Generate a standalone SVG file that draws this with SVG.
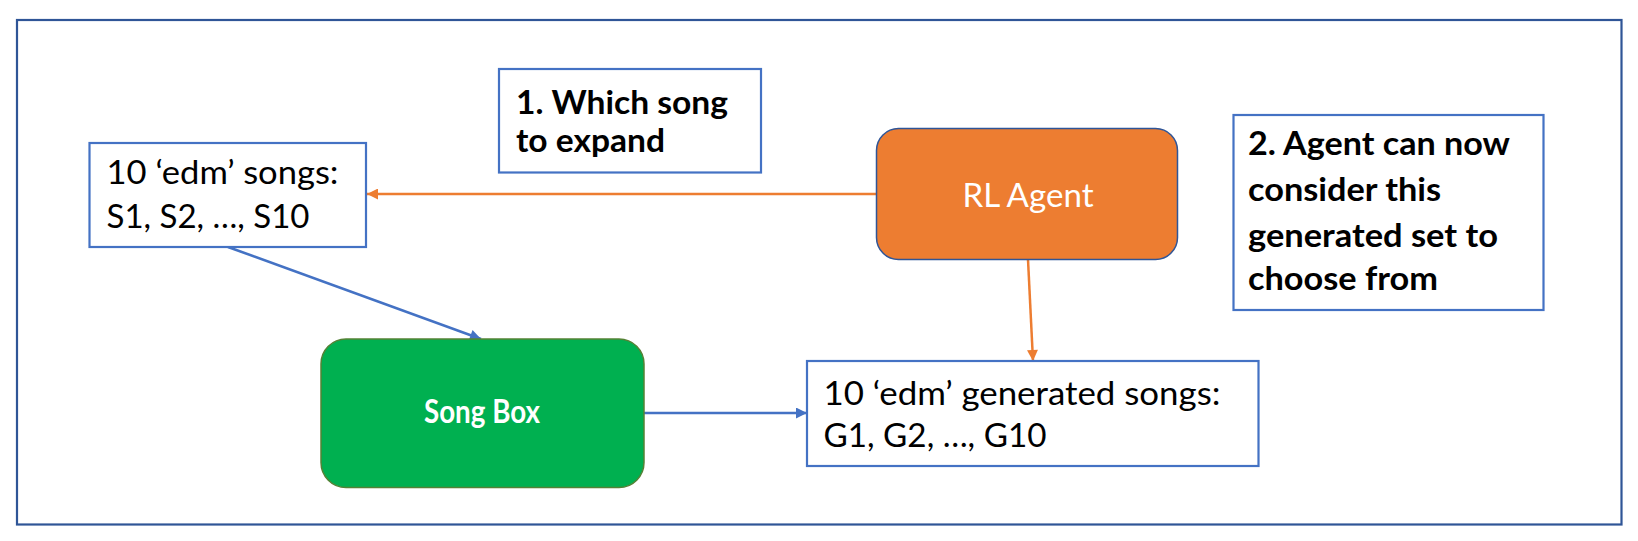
<svg xmlns="http://www.w3.org/2000/svg" width="1638" height="541" viewBox="0 0 1638 541">
  <defs>
    <style>
      .box { fill: #ffffff; stroke: #4472C4; stroke-width: 2.2; }
      .txt { font-family: Lato, "Open Sans", "Liberation Sans", sans-serif; font-size: 33px; fill: #000000; }
      .bold { font-weight: bold; }
      .white { fill: #ffffff; }
      .blue { stroke: #4472C4; stroke-width: 2.5; fill: none; }
      .orange { stroke: #ED7D31; stroke-width: 2.5; fill: none; }
    </style>
    <marker id="arrBlue" viewBox="0 0 10 10" refX="10" refY="5" markerWidth="12" markerHeight="11" markerUnits="userSpaceOnUse" orient="auto">
      <path d="M0,0 L10,5 L0,10 z" fill="#4472C4"/>
    </marker>
    <marker id="arrOrange" viewBox="0 0 10 10" refX="10" refY="5" markerWidth="12" markerHeight="11" markerUnits="userSpaceOnUse" orient="auto">
      <path d="M0,0 L10,5 L0,10 z" fill="#ED7D31"/>
    </marker>
  </defs>

  <rect id="frame" x="17" y="20" width="1604.5" height="504.5" fill="#ffffff" stroke="#2F5597" stroke-width="2.2"/>

  <g id="connectors">
    <line class="orange" x1="876" y1="194" x2="367" y2="194" marker-end="url(#arrOrange)"/>
    <line class="orange" x1="1028" y1="259.5" x2="1033" y2="361" marker-end="url(#arrOrange)"/>
    <line class="blue" x1="228" y1="247" x2="481" y2="339" marker-end="url(#arrBlue)"/>
    <line class="blue" x1="644" y1="413" x2="807" y2="413" marker-end="url(#arrBlue)"/>
  </g>

  <g id="songs-input">
    <rect class="box" x="89.5" y="143" width="276.5" height="104"/>
    <text class="txt" x="106.5" y="184" textLength="232" lengthAdjust="spacingAndGlyphs">10 ‘edm’ songs:</text>
    <text class="txt" x="106.5" y="228" textLength="203" lengthAdjust="spacingAndGlyphs">S1, S2, …, S10</text>
  </g>

  <g id="note-1">
    <rect class="box" x="499" y="69" width="262" height="103.5"/>
    <text class="txt bold" x="516" y="114" textLength="212" lengthAdjust="spacingAndGlyphs">1. Which song</text>
    <text class="txt bold" x="516" y="151.5" textLength="149" lengthAdjust="spacingAndGlyphs">to expand</text>
  </g>

  <g id="rl-agent">
    <rect x="876.5" y="128.5" width="301" height="131" rx="22" ry="22" fill="#ED7D31" stroke="#2F5597" stroke-width="1.5"/>
    <text class="txt white" x="1028" y="207" text-anchor="middle" textLength="131" lengthAdjust="spacingAndGlyphs">RL Agent</text>
  </g>

  <g id="note-2">
    <rect class="box" x="1233.5" y="115" width="310" height="195"/>
    <text class="txt bold" x="1248" y="155" textLength="262" lengthAdjust="spacingAndGlyphs">2. Agent can now</text>
    <text class="txt bold" x="1248" y="201" textLength="193" lengthAdjust="spacingAndGlyphs">consider this</text>
    <text class="txt bold" x="1248" y="246.5" textLength="250" lengthAdjust="spacingAndGlyphs">generated set to</text>
    <text class="txt bold" x="1248" y="290" textLength="190" lengthAdjust="spacingAndGlyphs">choose from</text>
  </g>

  <g id="song-box">
    <rect x="321" y="339" width="323" height="148.5" rx="25" ry="25" fill="#00B050" stroke="#548235" stroke-width="1.5"/>
    <text class="txt bold white" x="482" y="423" text-anchor="middle" textLength="116" lengthAdjust="spacingAndGlyphs">Song Box</text>
  </g>

  <g id="songs-generated">
    <rect class="box" x="807" y="361" width="451.5" height="105"/>
    <text class="txt" x="823.5" y="405" textLength="397" lengthAdjust="spacingAndGlyphs">10 ‘edm’ generated songs:</text>
    <text class="txt" x="823.5" y="447" textLength="223" lengthAdjust="spacingAndGlyphs">G1, G2, …, G10</text>
  </g>
</svg>
